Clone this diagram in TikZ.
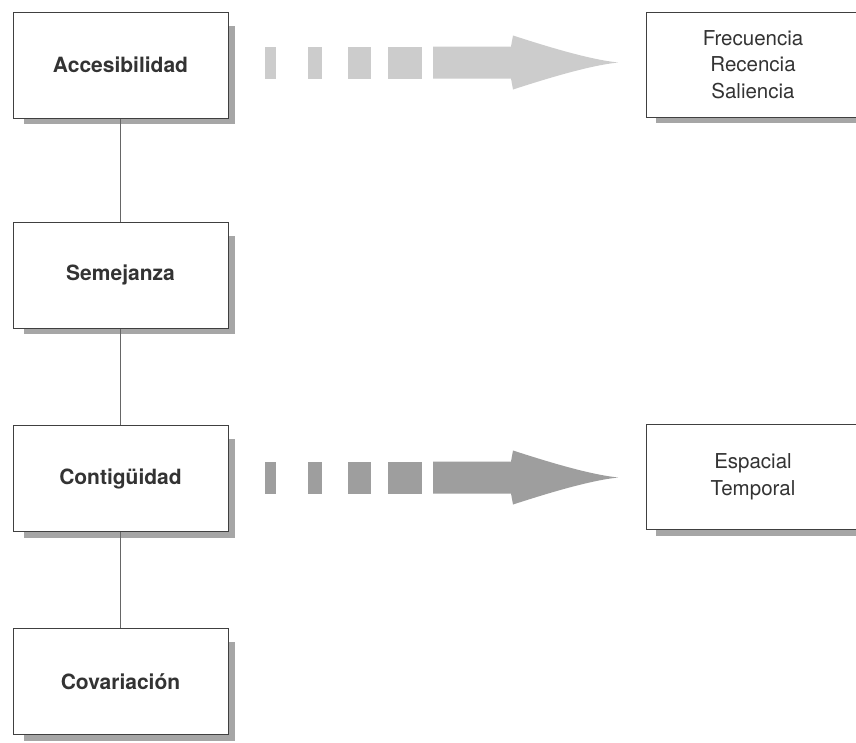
\documentclass[tikz,border=0pt]{standalone}
\usepackage{fontspec}
\setmainfont{TeX Gyre Heros}
\begin{document}
\begin{tikzpicture}[x=1pt,y=-1pt,
  box/.style={draw=black!75, line width=1pt, fill=white, rectangle, inner sep=0pt, text=black!80, align=center},
  leftbox/.style={box, minimum width=215pt, minimum height=106pt, font=\fontsize{21}{26}\selectfont\bfseries},
  rightbox/.style={box, minimum width=214pt, minimum height=105pt, font=\fontsize{20.5}{26.5}\selectfont},
  shadowc/.style={fill=black!35},
  link/.style={draw=black!60, line width=0.8pt}
]
\useasboundingbox (0,0) rectangle (856,742);
\fill[white] (0,0) rectangle (856,742);

% shadows of the left boxes
\foreach \t/\b in {12/118, 222/328, 425/532, 628/735}{
  \fill[shadowc] (228,\t+14) rectangle (235,\b+6);
  \fill[shadowc] (24,\b) rectangle (235,\b+6);
}
% shadows of the right boxes
\fill[shadowc] (656,117) rectangle (860,123);
\fill[shadowc] (656,530) rectangle (860,536);

% left column
\node[leftbox] (acc) at (120.5,65) {Accesibilidad};
\node[leftbox] (sem) at (120.5,275) {Semejanza};
\node[leftbox] (con) at (120.5,478.5) {Contigüidad};
\node[leftbox] (cov) at (120.5,681.5) {Covariación};

% right column
\node[rightbox] (frec) at (753,64.5) {Frecuencia\\Recencia\\Saliencia};
\node[rightbox] (esp) at (753,477) {Espacial\\Temporal};

% vertical links
\draw[link] (acc.south) -- (sem.north);
\draw[link] (sem.south) -- (con.north);
\draw[link] (con.south) -- (cov.north);

% dashed block arrows
\newcommand{\blockarrowdraw}[2]{%
  \begin{scope}[shift={(0,#1)}, fill=#2]
    \fill (265,-16) rectangle (276,16);
    \fill (308,-16) rectangle (322,16);
    \fill (348,-16) rectangle (371,16);
    \fill (388,-16) rectangle (422,16);
    \fill (433,-16) -- (511,-16) -- (513,-27)
      .. controls (550,-15) and (590,-3) .. (618,0)
      .. controls (590,3) and (550,15) .. (513,27)
      -- (511,16) -- (433,16) -- cycle;
  \end{scope}}
\blockarrowdraw{62.5}{black!20}
\blockarrowdraw{477.5}{black!38}
\end{tikzpicture}
\end{document}
